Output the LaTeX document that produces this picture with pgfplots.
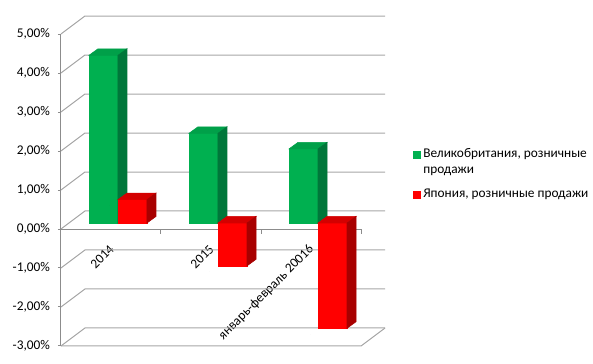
\documentclass[border=0pt]{standalone}
\usepackage{pgfplots}
\pgfplotsset{compat=1.18}
\usepackage{pgfplotstable}
\usepackage{fontspec}
\setmainfont{Carlito}

\definecolor{ukF}{HTML}{00B050}
\definecolor{ukT}{HTML}{00A049}
\definecolor{ukS}{HTML}{00773A}
\definecolor{jpF}{HTML}{FF0000}
\definecolor{jpT}{HTML}{D40000}
\definecolor{jpS}{HTML}{A80000}
\definecolor{gridc}{HTML}{A6A6A6}
\definecolor{axc}{HTML}{8C8C8C}

\pgfplotstableread{
x uk jp
0 4.3 0.6
1 2.3 -1.1
2 1.9 -2.7
}\data

% bar: width 21.75pt, front face set back by (6pt,4.5pt), depth (6.75pt,4.9pt)
\pgfplotsset{
  box3d/.style n args={3}{%
    scatter, only marks, mark=*, mark size=0pt, forget plot,
    mark options={draw=none,fill=none},
    visualization depends on={rawy \as \val},
    scatter/@pre marker code/.code={%
      \pgfmathsetmacro\hh{-\val*29.25}%
      \pgfmathsetmacro\yA{min(0,\hh)+4.5}%
      \pgfmathsetmacro\yB{max(0,\hh)+4.5}%
      \pgfmathsetmacro\yAd{\yA+4.9}%
      \pgfmathsetmacro\yBd{\yB+4.9}%
      \fill[#1] (6pt,\yA pt) rectangle (27.75pt,\yB pt);
      \fill[#2] (6pt,\yB pt) -- (27.75pt,\yB pt) -- (34.5pt,\yBd pt) -- (12.75pt,\yBd pt) -- cycle;
      \fill[#3] (27.75pt,\yA pt) -- (27.75pt,\yB pt) -- (34.5pt,\yBd pt) -- (34.5pt,\yAd pt) -- cycle;
    },
    scatter/@post marker code/.code={},
  },
}

\begin{document}
\begin{tikzpicture}
\begin{axis}[
  at={(0,0)}, anchor=origin,
  x=75pt, y=29.25pt,
  xmin=-0.5, xmax=2.5, ymin=-3, ymax=5,
  clip=false,
  axis x line=middle, axis y line=left,
  axis line style={draw=none},
  tick align=outside,
  major tick length=2.25pt,
  ytick={-3,-2,-1,0,1,2,3,4,5},
  yticklabels={{-3,00\%},{-2,00\%},{-1,00\%},{0,00\%},{1,00\%},{2,00\%},{3,00\%},{4,00\%},{5,00\%}},
  ytick style={draw=axc, line width=0.75pt},
  yticklabel style={font=\fontsize{10}{12}\selectfont, xshift=-2.5pt},
  xtick={0,1,2},
  xticklabels={2014,2015,{январь-февраль 20016}},
  xtick style={draw=none},
  xticklabel style={font=\fontsize{10}{12}\selectfont, xshift=3pt, yshift=-9pt, rotate=45, anchor=east},
  legend image code/.code={\fill[#1] (0pt,-2.6pt) rectangle (5.2pt,2.6pt);},
  legend style={at={(axis description cs:1.173,0.55)}, anchor=west, draw=none, fill=none,
    font=\fontsize{10}{12}\selectfont, row sep=6pt, inner sep=0pt,
    cells={align=left, anchor=west}},
  legend cell align=left,
]
% walls
\pgfplotsinvokeforeach{-3,-2,-1,0,1,2,3,4,5}{
  \draw[gridc, line width=0.75pt] (axis cs:-0.5,#1) -- ([shift={(18pt,13.5pt)}]axis cs:-0.5,#1) -- ([shift={(18pt,13.5pt)}]axis cs:2.5,#1);
}
\draw[gridc, line width=0.75pt] (axis cs:-0.5,-3) -- (axis cs:2.5,-3) -- ([shift={(18pt,13.5pt)}]axis cs:2.5,-3);
\draw[axc, line width=0.75pt] (axis cs:-0.5,-3) -- (axis cs:-0.5,5);
\draw[axc, line width=0.75pt] (axis cs:-0.5,0) -- (axis cs:2.5,0);
\pgfplotsinvokeforeach{0.5,1.5,2.5}{
  \draw[axc, line width=0.75pt] (axis cs:#1,0) -- ([yshift=-3.75pt]axis cs:#1,0);
}
% bars
\addplot[box3d={ukF}{ukT}{ukS}] table[x expr=\thisrow{x}-0.30, y=uk] {\data};
\addplot[box3d={jpF}{jpT}{jpS}] table[x expr=\thisrow{x}-0.01, y=jp] {\data};
\addlegendimage{ukF, yshift=6pt}
\addlegendentry{Великобритания, розничные\\продажи}
\addlegendimage{jpF}
\addlegendentry{Япония, розничные продажи}
\end{axis}
\pgfresetboundingbox
\path (-83.25pt,171.75pt) rectangle (361.5pt,-101.25pt);
\end{tikzpicture}
\end{document}
